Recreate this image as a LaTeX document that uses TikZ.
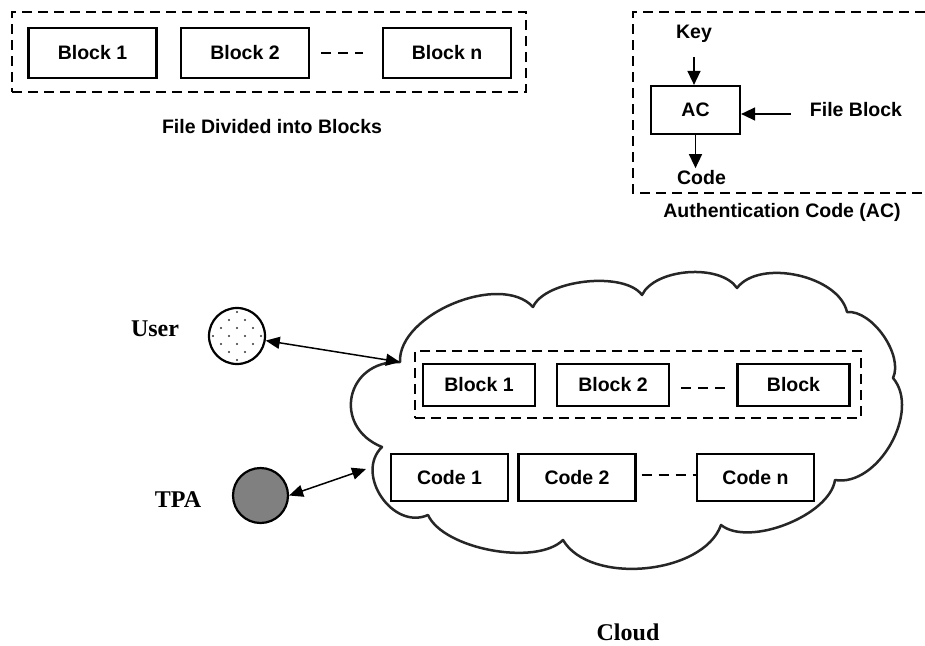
\documentclass[tikz,border=0pt]{standalone}
\usepackage{fontspec}
\setmainfont{Liberation Serif}
\newfontfamily\arialfont{Liberation Sans}
\usetikzlibrary{arrows.meta,calc}
\definecolor{tpagray}{RGB}{128,128,128}
\begin{document}
\begin{tikzpicture}[x=1pt,y=-1pt,
  sans/.style={font=\arialfont\bfseries\fontsize{19.5}{23}\selectfont, inner sep=0pt},
  serif/.style={font=\bfseries\fontsize{24}{28}\selectfont, inner sep=0pt},
  frame/.style={draw, line width=2pt, dash pattern=on 10pt off 6pt},
  boxline/.style={draw, line width=2.2pt},
  fblock/.style={boxline, sans, minimum width=128pt, minimum height=50pt},
  cblock/.style={boxline, sans, minimum width=112pt, minimum height=42pt},
  ccode/.style={boxline, sans, minimum width=117pt, minimum height=47pt},
  gapdash/.style={draw, line width=2pt, dash pattern=on 10pt off 7pt},
  arr/.style={line width=1.5pt, -{Triangle[length=14pt,width=13pt]}},
  dbl/.style={line width=1.5pt, {Triangle[length=14pt,width=12pt]}-{Triangle[length=14pt,width=12pt]}},
  cloudline/.style={draw=black!85, line width=2.5pt, line join=round}
]
\useasboundingbox (0,0) rectangle (925,645);

% ---------- File divided into blocks ----------
\node[frame, minimum width=514pt, minimum height=80pt] (fileframe) at (269,52) {};
\node[fblock] (fb1) at (92.5,53) {Block 1};
\node[fblock] (fb2) at (245,53) {Block 2};
\node[fblock] (fbn) at (447,53) {Block n};
\draw[gapdash] ([xshift=11pt]fb2.east) -- ([xshift=-19pt]fbn.west);
\node[sans] (cap1) at (272,127) {File Divided into Blocks};

% ---------- Authentication code ----------
\draw[frame] (925,12) -- (633,12) -- (633,193) -- (925,193);
\node[boxline, sans, minimum width=89pt, minimum height=48pt] (ac) at (695.5,110) {AC};
\node[sans] (key) at (694,33.5) {Key};
\node[sans] (fblk) at (856,110) {File Block};
\node[sans, inner sep=2pt] (code) at (701.5,177.5) {Code};
\draw[arr] ([yshift=-14.5pt]key.south) -- (key.south |- ac.north);
\draw[arr] ([shift={(-19pt,-4pt)}]fblk.west) -- ([yshift=-4pt]ac.east);
\draw[arr] (ac.south) -- (ac.south |- code.north);
\node[sans] (cap2) at (782,212) {Authentication Code (AC)};

% ---------- Cloud ----------
\draw[cloudline] (382,447)
  to[bend left=80, looseness=1.6] (400,362)
  to[bend left=70, looseness=0.85] (533,307)
  to[bend left=60, looseness=0.7] (642,295)
  to[bend left=60, looseness=0.8] (737,288)
  to[bend left=65, looseness=0.85] (847,312)
  to[bend left=60, looseness=0.8] (893,378)
  to[bend left=70, looseness=0.95] (835,480)
  to[bend left=60, looseness=0.75] (721,525)
  to[bend left=65, looseness=0.85] (563,540)
  to[bend left=55, looseness=0.7] (428,515)
  to[bend left=80, looseness=1.2] (382,447) -- cycle;
\coordinate (cu) at (400,362);
\coordinate (ct) at (366,469);

\node[frame, minimum width=446pt, minimum height=67pt] (cframe) at (638,384.5) {};
\node[cblock] (cb1) at (479,385) {Block 1};
\node[cblock] (cb2) at (613,385) {Block 2};
\node[cblock] (cbn) at (793.5,385) {Block};
\draw[gapdash] ([shift={(11pt,-3pt)}]cb2.east) -- ([shift={(-10pt,-3pt)}]cbn.west);

\node[ccode] (cc1) at (449.5,477.5) {Code 1};
\node[ccode] (cc2) at (577,477.5) {Code 2};
\node[ccode] (ccn) at (755.5,477.5) {Code n};
\draw[gapdash] ([shift={(5pt,2.5pt)}]cc2.east) -- ([yshift=2.5pt]ccn.west);

\node[serif] (cloudlbl) at (628,632) {Cloud};

% ---------- User and TPA ----------
\node[circle, boxline, minimum size=56pt, inner sep=0pt] (user) at (237,336) {};
\foreach \dx/\dy in {0/-24,-8/-16,8/-16,-16/-8,0/-8,16/-8,-24/0,-8/0,8/0,24/0,-16/8,0/8,16/8,-8/16,8/16,0/24}
  \fill[black!80] ($(user.center)+(\dx,\dy)$) circle (1.1pt);
\node[circle, boxline, fill=tpagray, minimum size=55pt, inner sep=0pt] (tpa) at (260.5,495.5) {};
\node[serif] (userlbl) at (155,328.5) {User};
\node[serif] (tpalbl) at (178,500) {TPA};

\draw[dbl] (user) -- (cu);
\draw[dbl] (tpa.east) -- (ct);
\end{tikzpicture}
\end{document}
